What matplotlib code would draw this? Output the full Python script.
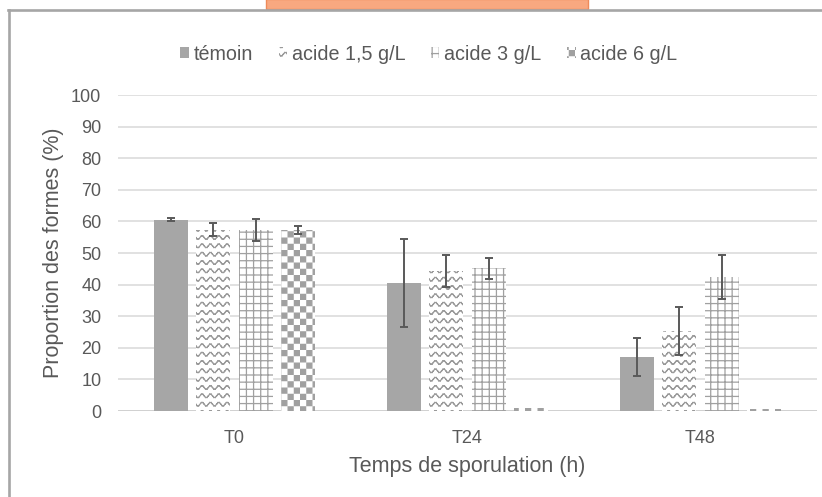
import warnings
warnings.filterwarnings("ignore")
import numpy as np
import matplotlib
matplotlib.use("Agg")
import matplotlib.pyplot as plt
import matplotlib.hatch as mhatch
from matplotlib.path import Path
from matplotlib.patches import Rectangle
from matplotlib.lines import Line2D

# ---------------- data ----------------
categories = ["T0", "T24", "T48"]
series = ["témoin", "acide 1,5 g/L", "acide 3 g/L", "acide 6 g/L"]
temoin = [60.5, 40.5, 17.0]
temoin_err = [0.5, 14.0, 6.0]
acide_1_5 = [57.4, 44.4, 25.3]
acide_1_5_err = [2.1, 5.1, 7.6]
acide_3 = [57.2, 45.1, 42.5]
acide_3_err = [3.5, 3.2, 6.9]
acide_6 = [57.3, 0.8, 0.7]
acide_6_err = [1.4, 0.0, 0.0]
yticks = list(range(0, 101, 10))
xlabel = "Temps de sporulation (h)"
ylabel = "Proportion des formes (%)"

# ---------------- custom hatches ----------------
class WaveHatch(mhatch.HatchPatternBase):
    def __init__(self, hatch, density):
        n = hatch.count('w')
        self.rows = 12 * n
        self.periods = 12
        self.seg = 6
        self.num_vertices = self.rows * self.periods * self.seg * 2

    def set_vertices_and_codes(self, vertices, codes):
        amp = 0.019
        nseg = self.periods * self.seg
        xs = np.linspace(0, 1, nseg + 1)
        k = 0
        for r in range(self.rows):
            y0 = (r + 0.5) / self.rows
            ys = y0 + amp * np.sin(2 * np.pi * self.periods * xs)
            for j in range(nseg):
                vertices[k] = (xs[j], ys[j]); codes[k] = Path.MOVETO
                vertices[k + 1] = (xs[j + 1], ys[j + 1]); codes[k + 1] = Path.LINETO
                k += 2


class GridHatch(mhatch.HatchPatternBase):
    def __init__(self, hatch, density):
        n = hatch.count('g')
        self.lines = 14 * n
        self.num_vertices = self.lines * 4

    def set_vertices_and_codes(self, vertices, codes):
        k = 0
        for i in range(self.lines):
            p = (i + 0.5) / self.lines
            vertices[k:k + 4] = [(0, p), (1, p), (p, 0), (p, 1)]
            codes[k:k + 4] = [Path.MOVETO, Path.LINETO, Path.MOVETO, Path.LINETO]
            k += 4


class CheckerHatch(mhatch.HatchPatternBase):
    def __init__(self, hatch, density):
        n = hatch.count('c')
        self.cells = 16 * n
        self.num_vertices = (self.cells * self.cells // 2) * 5

    def set_vertices_and_codes(self, vertices, codes):
        s = 1.0 / self.cells
        d = 0.1 * s
        k = 0
        for i in range(self.cells):
            for j in range(self.cells):
                if (i + j) % 2 == 0:
                    x0, y0 = i * s + d, j * s + d
                    x1, y1 = (i + 1) * s - d, (j + 1) * s - d
                    vertices[k:k + 5] = [(x0, y0), (x1, y0), (x1, y1), (x0, y1), (x0, y0)]
                    codes[k:k + 5] = [Path.MOVETO, Path.LINETO, Path.LINETO,
                                      Path.LINETO, Path.CLOSEPOLY]
                    k += 5


mhatch._hatch_types.extend([WaveHatch, GridHatch, CheckerHatch])

plt.rcParams['font.family'] = ['Liberation Sans', 'DejaVu Sans']
plt.rcParams['hatch.linewidth'] = 0.9

TXT = '#595959'
GRAY = '#a6a6a6'

fig = plt.figure(figsize=(8.22, 4.97), dpi=100)
ax = fig.add_axes([118 / 822, 1 - 411 / 497, 699 / 822, (411 - 95) / 497])

x = np.arange(len(categories))
width = 0.146
step = 0.182
values = [temoin, acide_1_5, acide_3, acide_6]
errors = [temoin_err, acide_1_5_err, acide_3_err, acide_6_err]
styles = [
    dict(color=GRAY, hatch=None, edgecolor=GRAY),
    dict(color='white', hatch='w', edgecolor='#9a9a9a'),
    dict(color='white', hatch='g', edgecolor='#a0a0a0'),
    dict(color='white', hatch='c', edgecolor='#a0a0a0'),
]

handles = []
for i, (vals, errs, st) in enumerate(zip(values, errors, styles)):
    pos = x + (i - 1.5) * step
    b = ax.bar(pos, vals, width, color=st['color'], hatch=st['hatch'],
               edgecolor=st['edgecolor'], linewidth=0, label=series[i], zorder=2)
    handles.append(b)
    errs = np.array(errs)
    mask = errs > 0
    ax.errorbar(pos[mask], np.array(vals)[mask], yerr=errs[mask], fmt='none',
                ecolor='#595959', elinewidth=1.4, capsize=3, capthick=1.4, zorder=3)

ax.set_xlim(-0.5, 2.5)
ax.set_ylim(0, 100)
ax.set_yticks(yticks)
ax.set_xticks(x)
ax.set_xticklabels(categories)
ax.grid(axis='y', color='#d9d9d9', linewidth=1.1, zorder=0)
ax.set_axisbelow(True)
for s in ax.spines.values():
    s.set_visible(False)
ax.axhline(0, color='#d0d0d0', linewidth=1.3, zorder=1)
ax.tick_params(axis='both', length=0, labelsize=13, colors=TXT)
ax.tick_params(axis='y', pad=12)
ax.tick_params(axis='x', pad=14)
ax.set_xlabel(xlabel, fontsize=15.5, color=TXT, labelpad=6)
ax.set_ylabel(ylabel, fontsize=15.5, color=TXT, labelpad=5)

fig.legend(handles=handles, labels=series, loc='center',
           bbox_to_anchor=(429 / 822, 1 - 54 / 497), ncol=4, frameon=False,
           fontsize=14.2, labelcolor=TXT, handlelength=0.42, handleheight=0.42,
           handletextpad=0.25, columnspacing=1.3)

# decorations: frame and orange tab
fig.patches.append(Rectangle((266 / 822, 1 - 8.5 / 497), (588 - 266) / 822, 9 / 497,
                             transform=fig.transFigure, facecolor='#f8a880',
                             edgecolor='#ee8a5a', linewidth=1.0))
fig.lines.append(Line2D([8 / 822, 1], [1 - 9.5 / 497] * 2, transform=fig.transFigure,
                        color=GRAY, linewidth=1.9))
fig.lines.append(Line2D([9.3 / 822] * 2, [0, 1 - 9.5 / 497], transform=fig.transFigure,
                        color=GRAY, linewidth=1.9))

fig.savefig('out.png', dpi=100)
